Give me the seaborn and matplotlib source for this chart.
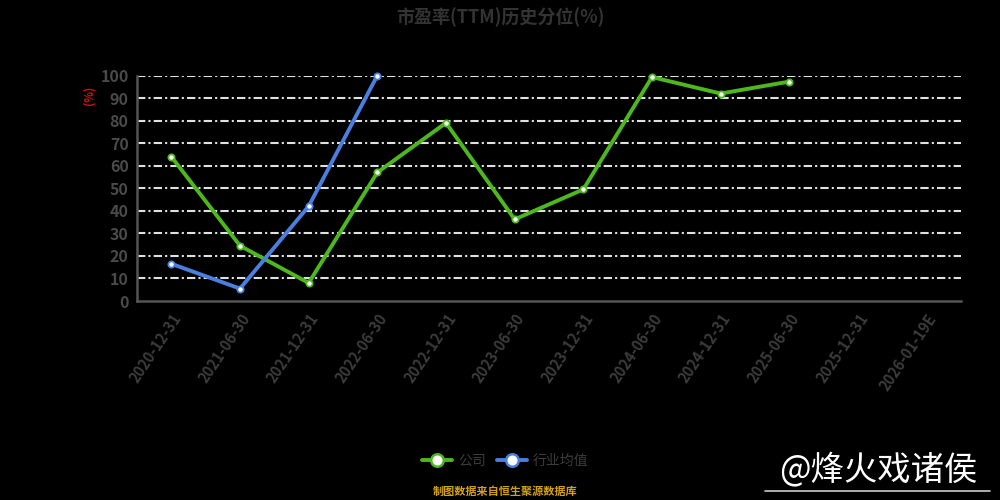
import matplotlib
matplotlib.use("Agg")
import matplotlib.pyplot as plt
import numpy as np
import pandas as pd
import seaborn as sns

CATEGORIES = [
	"2020-12-31", "2021-06-30", "2021-12-31", "2022-06-30", "2022-12-31",
	"2023-06-30", "2023-12-31", "2024-06-30", "2024-12-31", "2025-06-30",
	"2025-12-31", "2026-01-19E",
]
COMPANY_DATES = CATEGORIES[:10]
COMPANY_VALUES = [64.0, 24.5, 8.0, 57.0, 79.0, 36.2, 49.5, 99.3, 92.0, 97.3]
INDUSTRY_DATES = CATEGORIES[:4]
INDUSTRY_VALUES = [16.5, 5.5, 42.0, 100.0]
SERIES_NAMES = ["公司", "行业均值"]
SERIES_COLORS = ["#4cb81e", "#4a7fe0"]
Y_TICKS = list(range(0, 101, 10))

TITLE = "市盈率(TTM)历史分位(%)"
SOURCE = "制图数据来自恒生聚源数据库"
WATERMARK = "@烽火戏诸侯"


def build_frame() -> pd.DataFrame:
	rows = []
	for date, value in zip(COMPANY_DATES, COMPANY_VALUES):
		rows.append({"date": date, "pos": CATEGORIES.index(date), "value": value, "series": SERIES_NAMES[0]})
	for date, value in zip(INDUSTRY_DATES, INDUSTRY_VALUES):
		rows.append({"date": date, "pos": CATEGORIES.index(date), "value": value, "series": SERIES_NAMES[1]})
	return pd.DataFrame(rows)


def main() -> None:
	sns.set_theme(style="dark")
	plt.rcParams["font.family"] = ["Noto Sans CJK SC", "DejaVu Sans"]
	plt.rcParams["axes.unicode_minus"] = False

	df = build_frame()

	fig = plt.figure(figsize=(10, 5), dpi=100, facecolor="black")
	ax = fig.add_axes([0.137, 0.398, 0.824, 0.451])
	ax.set_facecolor("black")

	sns.lineplot(
		data=df, x="pos", y="value", hue="series",
		hue_order=SERIES_NAMES, palette=SERIES_COLORS,
		linewidth=2.8, marker="o", markersize=4.5,
		markerfacecolor="white", markeredgewidth=1.3,
		errorbar=None, ax=ax, clip_on=False, legend=False,
	)
	for line, color in zip(ax.get_lines(), SERIES_COLORS):
		line.set_markeredgecolor(color)

	ax.set_xlim(-0.5, len(CATEGORIES) - 0.5)
	ax.set_ylim(0, 100)
	ax.set_yticks(Y_TICKS)
	ax.set_yticklabels([str(t) for t in Y_TICKS], color="#4a4a4a", fontsize=11.5,
		fontweight="bold")
	ax.set_xticks(range(len(CATEGORIES)))
	ax.set_xticklabels(CATEGORIES, rotation=56, ha="right", va="top",
		rotation_mode="anchor", color="#3c3c3c", fontsize=10.5, fontweight="bold")
	ax.set_xticks(np.arange(-0.5, len(CATEGORIES)), minor=True)
	ax.tick_params(axis="x", which="major", length=0, pad=7)
	ax.tick_params(axis="x", which="minor", length=5, color="#555555", width=1.2)
	ax.tick_params(axis="y", length=4, color="#555555", width=1.2, pad=2)
	ax.set_xlabel("")
	ax.set_ylabel("(%)", color="#e01010", fontsize=8, fontweight="bold")
	ax.yaxis.set_label_coords(-0.05, 0.91)

	ax.grid(False)
	for t in Y_TICKS[1:]:
		ax.axhline(t, color="#e0e0e0", linewidth=1.5, linestyle=(0, (4, 1.5, 1, 1.5)), zorder=0)

	for side in ["top", "right"]:
		ax.spines[side].set_visible(False)
	for side in ["left", "bottom"]:
		ax.spines[side].set_color("#555555")
		ax.spines[side].set_linewidth(1.8)

	fig.text(0.5, 0.965, TITLE, ha="center", va="center", fontsize=13,
		fontweight="bold", color="#333333")

	handles = [
		plt.Line2D([], [], color=c, linewidth=2.8, marker="o", markersize=9,
			markerfacecolor="white", markeredgecolor=c, markeredgewidth=1.8)
		for c in SERIES_COLORS
	]
	leg = fig.legend(handles, SERIES_NAMES, loc="center", bbox_to_anchor=(0.505, 0.078),
		ncol=2, frameon=False, fontsize=10, handlelength=2.2, columnspacing=0.8,
		handletextpad=0.4)
	for text in leg.get_texts():
		text.set_color("#3c3c3c")

	fig.text(0.505, 0.018, SOURCE, ha="center", va="center", fontsize=8,
		color="#d4a017", fontweight="bold")

	fig.text(0.878, 0.06, WATERMARK, ha="center", va="center", fontsize=24,
		color="white")
	fig.add_artist(plt.Line2D([0.765, 0.99], [0.018, 0.018], color="#cccccc", linewidth=1.2))

	fig.savefig("out.png", dpi=100, facecolor="black")


if __name__ == "__main__":
	main()
